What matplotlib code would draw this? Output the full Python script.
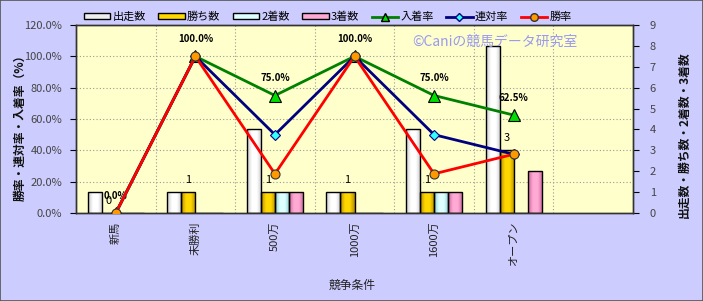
import numpy as np
import matplotlib
matplotlib.use('Agg')
import matplotlib.pyplot as plt
from matplotlib.colors import LinearSegmentedColormap
from matplotlib.lines import Line2D
from matplotlib.patches import Patch, Rectangle

plt.rcParams['font.family'] = ['Noto Sans CJK JP', 'DejaVu Sans']

# data
categories = ['新馬', '未勝利', '500万', '1000万', '1600万', 'オープン', '']
starts = [1, 1, 4, 1, 4, 8]
wins = [0, 1, 1, 1, 1, 3]
seconds = [0, 0, 1, 0, 1, 0]
thirds = [0, 0, 1, 0, 1, 2]
win_rate = [0.0, 100.0, 25.0, 100.0, 25.0, 37.5]
rentai_rate = [0.0, 100.0, 50.0, 100.0, 50.0, 37.5]
place_rate = [0.0, 100.0, 75.0, 100.0, 75.0, 62.5]
left_ticks = [0, 20, 40, 60, 80, 100, 120]
right_ticks = list(range(10))

fig = plt.figure(figsize=(7.03, 3.01), dpi=100, facecolor='#CCCCFF')
ax2 = fig.add_axes([76/703, 1-213/301, 557/703, 188/301])
ax = ax2.twinx()
# swap sides: rates on left, counts on right, lines over bars
ax.yaxis.tick_left()
ax2.yaxis.tick_right()
ax.set_zorder(ax2.get_zorder() + 1)
ax.patch.set_visible(False)
ax2.set_facecolor('#FFFFCC')

x = np.arange(len(starts))
w = 0.176
bar_sets = [
    (starts, '#C8C8C8', '#FFFFFF', '出走数'),
    (wins, '#B08A00', '#FFD700', '勝ち数'),
    (seconds, '#88CCCC', '#DDFFFF', '2着数'),
    (thirds, '#CC6699', '#FFAAD4', '3着数'),
]
for i, (vals, dark, light, lab) in enumerate(bar_sets):
    cmap = LinearSegmentedColormap.from_list(lab, [dark, light, light, dark], N=64)
    xs = x + (i - 1.5) * w
    bars = ax2.bar(xs, vals, w, facecolor='none', edgecolor='black', lw=1.0, zorder=3)
    for b in bars:
        if b.get_height() <= 0:
            continue
        im = ax2.imshow(np.linspace(0, 1, 64).reshape(1, -1), cmap=cmap, aspect='auto',
                        extent=[b.get_x(), b.get_x() + b.get_width(), 0, b.get_height()],
                        zorder=2)
        im.set_clip_path(b)

# win count labels
for xi, v in zip(x - 0.5 * w, wins):
    ax2.annotate(str(v), (xi, v), xytext=(0, 9), textcoords='offset points',
                 ha='center', va='center', fontsize=8, color='black')

ax2.set_xlim(-0.5, 6.5)
ax2.set_ylim(0, 9)
ax2.set_yticks(right_ticks)

# rate lines
ax.plot(x, place_rate, color='#008000', lw=2, marker='^', ms=8,
        mfc='#00DD00', mec='black', mew=0.8, label='入着率', zorder=4)
ax.plot(x, rentai_rate, color='#000080', lw=2, marker='D', ms=5,
        mfc='#33FFFF', mec='#000080', mew=0.8, label='連対率', zorder=5)
ax.plot(x, win_rate, color='#FF0000', lw=2, marker='o', ms=6.5,
        mfc='#FF9900', mec='#333333', mew=0.8, label='勝率', zorder=6)
for xi, v in zip(x, place_rate):
    ax.annotate(f'{v:.1f}%', (xi, v), xytext=(0, 12.5), textcoords='offset points',
                ha='center', va='center', fontsize=7, fontweight='bold', color='black')

ax.set_ylim(0, 120)
ax.set_yticks(left_ticks)
ax.set_yticklabels([f'{t:.1f}%' for t in left_ticks])
ax.set_xlim(-0.5, 6.5)

# grid
for t in left_ticks[1:-1]:
    ax2.axhline(t / 120 * 9, color='#999999', lw=0.8, ls=(0, (1, 2)), zorder=1)
for b in np.arange(0.5, 6.5, 1):
    ax2.axvline(b, color='#999999', lw=0.8, ls=(0, (1, 2)), zorder=1)

ax2.set_xticks(np.arange(len(categories)))
ax2.set_xticklabels(categories, rotation=90, fontsize=8, color='#222222')
ax2.tick_params(axis='x', length=0, pad=6)
ax.tick_params(axis='y', labelsize=8, labelcolor='#444444', length=4, direction='out', pad=6)
ax2.tick_params(axis='y', labelsize=8, labelcolor='#444444', length=4, direction='out', pad=8)
for a in (ax, ax2):
    for s in a.spines.values():
        s.set_color('#333333')
        s.set_linewidth(1.0)

# axis titles
fig.text(20/703, 1 - 125/301, '勝率・連対率・入着率（%）', rotation=90, ha='center', va='center',
         fontsize=8.5, fontweight='bold', color='#111111')
fig.text(684/703, 1 - 135/301, '出走数・勝ち数・2着数・3着数', rotation=90, ha='center', va='center',
         fontsize=8.5, fontweight='bold', color='#111111')
fig.text(352/703, 1 - 285/301, '競争条件', ha='center', va='center', fontsize=8.5, color='#222222')

# watermark
ax.text((495 - 76) / 557, 1 - (42 - 25) / 188, '©Caniの競馬データ研究室',
        transform=ax.transAxes, ha='center', va='center', fontsize=10, color='#9999F0', zorder=0)

# legend
handles = [Patch(facecolor=c2, edgecolor='black', label=lab) for _, c1, c2, lab in bar_sets]
handles[0] = Patch(facecolor='#EEEEEE', edgecolor='black', label='出走数')
handles += [
    Line2D([], [], color='#008000', lw=2, marker='^', ms=6, mfc='#00DD00', mec='black', label='入着率'),
    Line2D([], [], color='#000080', lw=2, marker='D', ms=4, mfc='#33FFFF', mec='#000080', label='連対率'),
    Line2D([], [], color='#FF0000', lw=2, marker='o', ms=5.5, mfc='#FF9900', mec='#333333', label='勝率'),
]
fig.legend(handles=handles, ncol=7, loc='center left', bbox_to_anchor=(78/703, 1 - 17/301),
           frameon=False, fontsize=8, handlelength=2.4, handleheight=0.5, handletextpad=0.2,
           columnspacing=1.1, borderpad=0)

fig.patches.append(Rectangle((0, 0), 1, 1, transform=fig.transFigure, fill=False,
                             edgecolor='#555555', lw=1.2))

plt.savefig('out.png', dpi=100, facecolor=fig.get_facecolor())
